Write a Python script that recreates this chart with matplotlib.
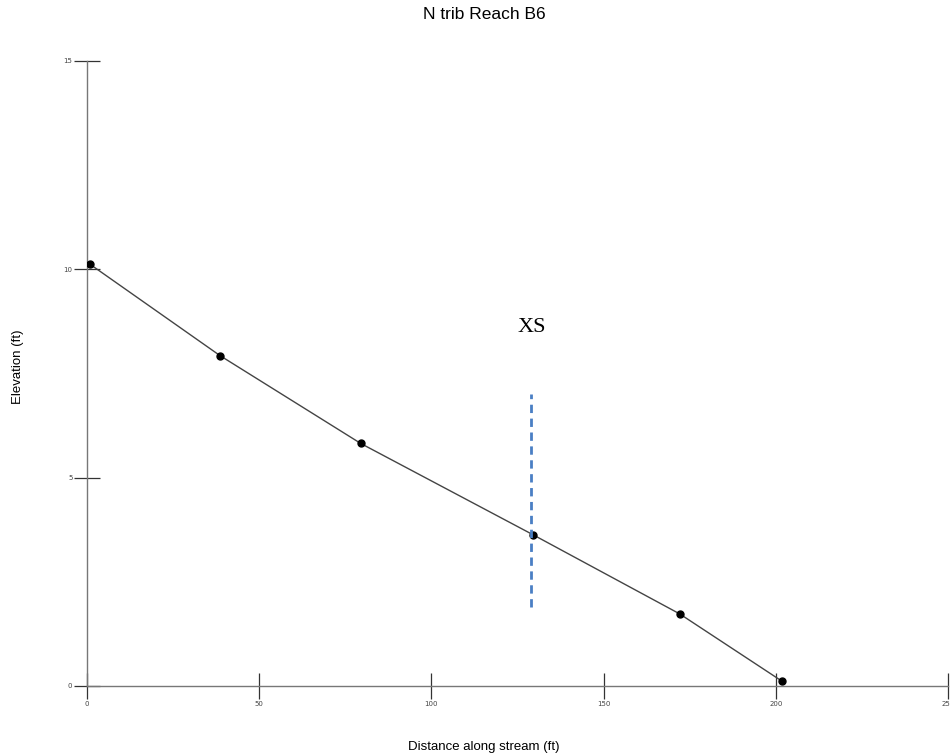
import matplotlib.pyplot as plt
import numpy as np

# stream profile survey points
distance = np.array([0.9, 38.6, 79.5, 129.5, 172.1, 201.7])
elevation = np.array([10.12, 7.93, 5.82, 3.63, 1.73, 0.12])

xs_station = 129.0
xs_bottom = 1.9
xs_top = 7.0

xticks = [0, 50, 100, 150, 200, 250]
yticks = [0, 5, 10, 15]

fig = plt.figure(figsize=(9.5, 7.54), dpi=100)
ax = fig.add_axes([0.0916, 0.0902, 0.9063, 0.8289])

ax.plot(distance, elevation, color="#444444", linewidth=1.0, zorder=2)
ax.plot(distance, elevation, linestyle="none", marker="o", markersize=5,
        color="black", zorder=3)

ax.vlines(xs_station, xs_bottom, xs_top, colors="#4a7fc4",
          linestyles=(0, (3, 2)), linewidth=2, zorder=4)
ax.text(xs_station, 8.6, "XS", family="Liberation Serif", fontsize=16,
        ha="center", va="center")

ax.set_xlim(0, 250)
ax.set_ylim(0, 15)
ax.set_xticks(xticks)
ax.set_yticks(yticks)

for side in ["top", "right"]:
    ax.spines[side].set_visible(False)
for side in ["left", "bottom"]:
    ax.spines[side].set_color("#777777")
    ax.spines[side].set_linewidth(1.0)

ax.tick_params(direction="inout", length=19, width=0.9, color="#333333",
               labelsize=5, labelcolor="#444444", pad=1)

ax.set_title("N trib Reach B6", fontsize=12.5, family="Liberation Sans",
             x=0.461, pad=30)
ax.set_xlabel("Distance along stream (ft)", fontsize=9.5,
              family="Liberation Sans")
ax.set_ylabel("Elevation (ft)", fontsize=9.5, family="Liberation Sans")
ax.xaxis.set_label_coords(0.461, -0.088)
ax.yaxis.set_label_coords(-0.073, 0.51)

fig.savefig("out.png", dpi=100)
